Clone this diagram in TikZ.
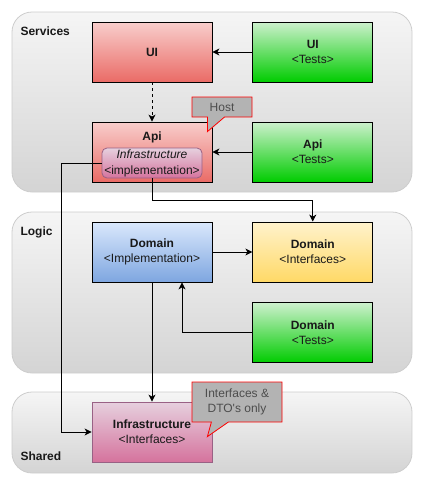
\documentclass[tikz,border=0pt]{standalone}
\usepackage{fontspec}
\setmainfont{Liberation Sans}
\usepackage{tikz}
\usetikzlibrary{arrows.meta, positioning, shapes.callouts}
\definecolor{redtop}{RGB}{248,206,204}
\definecolor{redbot}{RGB}{234,107,102}
\definecolor{greentop}{RGB}{205,240,205}
\definecolor{greenbot}{RGB}{0,204,0}
\definecolor{bluetop}{RGB}{218,232,252}
\definecolor{bluebot}{RGB}{126,166,224}
\definecolor{yellowtop}{RGB}{255,242,204}
\definecolor{yellowbot}{RGB}{255,217,102}
\definecolor{pinktop}{RGB}{230,208,222}
\definecolor{pinkbot}{RGB}{213,115,157}
\definecolor{pinkline}{RGB}{153,97,133}
\definecolor{layertop}{RGB}{245,245,245}
\definecolor{layerbot}{RGB}{212,212,212}
\definecolor{layerline}{RGB}{205,205,205}
\definecolor{notegray}{RGB}{179,179,179}
\definecolor{notetext}{RGB}{77,77,77}
\definecolor{inktext}{RGB}{25,25,25}
\tikzset{
  box/.style={rectangle, draw=black, minimum width=120pt, minimum height=60pt,
    align=center, font=\fontsize{12}{15}\selectfont, text=inktext, line width=0.8pt},
  redbox/.style={box, top color=redtop, bottom color=redbot},
  greenbox/.style={box, top color=greentop, bottom color=greenbot},
  bluebox/.style={box, top color=bluetop, bottom color=bluebot},
  yellowbox/.style={box, top color=yellowtop, bottom color=yellowbot},
  pinkbox/.style={box, draw=pinkline, top color=pinktop, bottom color=pinkbot},
  implbox/.style={pinkbox, minimum width=100pt, minimum height=30pt,
    rounded corners=5pt, inner sep=1pt, font=\fontsize{12}{16}\selectfont},
  layer/.style={rectangle, rounded corners=20pt, draw=layerline, line width=0.8pt,
    top color=layertop, bottom color=layerbot, minimum width=400pt},
  layertitle/.style={anchor=west, font=\fontsize{12}{14}\selectfont\bfseries, text=inktext},
  note/.style={rectangle callout, draw=red, fill=notegray, text=notetext, line width=0.8pt,
    callout pointer width=17pt, align=center, font=\fontsize{12}{15}\selectfont},
  arrow/.style={-{Stealth[length=7pt, width=7pt, inset=2pt]}, line width=0.9pt},
  dasharrow/.style={arrow, dash pattern=on 3pt off 3pt}
}
\begin{document}
\begin{tikzpicture}[x=1pt, y=-1pt]
  \useasboundingbox (0,0) rectangle (425,485);

  % Layers
  \node[layer, minimum height=180pt] (services) at (212,102) {};
  \node[layer, minimum height=161pt] (logic) at (212,292.5) {};
  \node[layer, minimum height=81pt] (shared) at (212,432.5) {};
  \node[layertitle] (servicestitle) at (17,31) {Services};
  \node[layertitle] (logictitle) at (17,232) {Logic};
  \node[layertitle] (sharedtitle) at (17,456) {Shared};

  % Services
  \node[redbox] (ui) at (152,52) {\textbf{UI}};
  \node[greenbox, right=40pt of ui] (uitest) {\textbf{UI}\\<Tests>};
  \node[redbox, label={[anchor=north, yshift=-7pt, font=\fontsize{12}{15}\selectfont\bfseries, text=inktext]north:Api}] (api) at (152,152) {};
  \node[implbox] (infimpl) at (152,163) {\textit{Infrastructure}\\<implementation>};
  \node[greenbox, right=40pt of api] (apitest) {\textbf{Api}\\<Tests>};

  % Logic
  \node[bluebox] (domimpl) at (152,252) {\textbf{Domain}\\<Implementation>};
  \node[yellowbox, right=40pt of domimpl] (domint) {\textbf{Domain}\\<Interfaces>};
  \node[greenbox, below=20pt of domint] (domtest) {\textbf{Domain}\\<Tests>};

  % Shared
  \node[pinkbox] (infint) at (152,432) {\textbf{Infrastructure}\\<Interfaces>};

  % Connectors
  \draw[arrow] (uitest) -- (ui);
  \draw[arrow] (apitest) -- (api);
  \draw[dasharrow] (ui) -- (api);
  \draw[arrow] (infimpl.west) -- ++(-40,0) |- (infint.west);
  \draw[arrow] (infimpl.south) -- ++(0,22) -| (domint.north);
  \draw[arrow] (domimpl) -- (domint);
  \draw[arrow] (domtest.west) -| ([xshift=30pt]domimpl.south);
  \draw[arrow] (domimpl) -- (infint);

  % Notes
  \node[note, minimum width=60pt, minimum height=20pt,
    callout absolute pointer={([xshift=-5pt, yshift=-10pt]api.north east)}] (host) at (222,107) {Host};
  \node[note, minimum width=90pt, minimum height=40pt, inner sep=1pt,
    callout absolute pointer={([xshift=-5pt, yshift=-35pt]infint.north east)}] (dtonote) at (237,402) {Interfaces \&\\DTO\textquotesingle s only};
\end{tikzpicture}
\end{document}
